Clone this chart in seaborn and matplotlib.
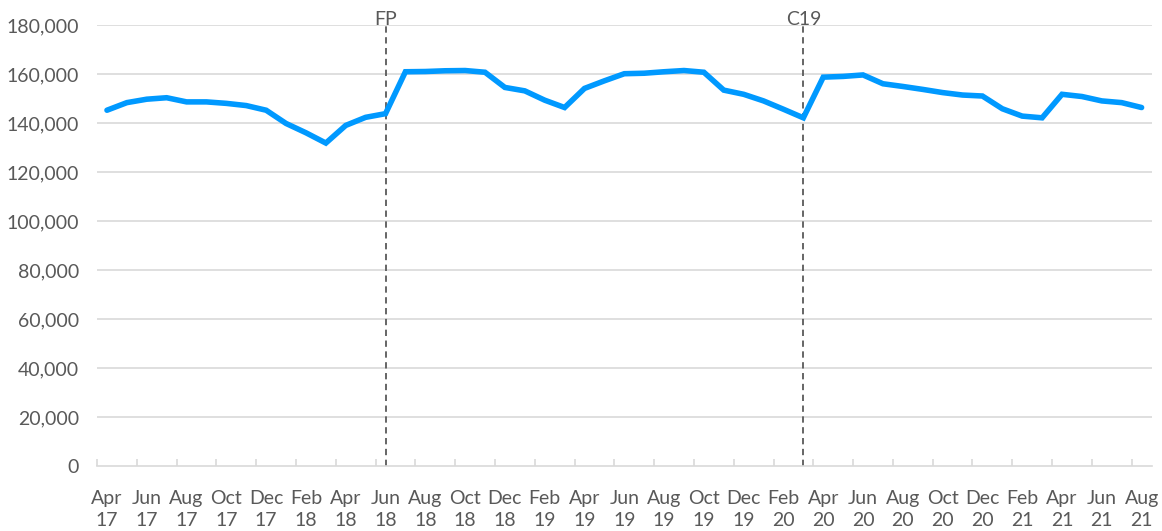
import matplotlib.pyplot as plt
import pandas as pd
import seaborn as sns
import numpy as np

# Monthly series, Apr 2017 - Aug 2021
values = [
    145200, 148300, 149700, 150300, 148600, 148600, 148000, 147100, 145200,
    139800, 136000, 131800, 139000, 142300, 143800,
    160900, 161000, 161300, 161400, 160700, 154500, 153100, 149300, 146300,
    154100, 157200, 160100, 160300, 160900, 161400, 160700, 153400, 151700,
    149000, 145600, 142100,
    158700, 159000, 159600, 156000, 154900, 153700, 152400, 151400, 151000,
    145800, 142800, 142100, 151700, 150800, 149000, 148300, 146300,
]
dates = pd.date_range('2017-04-01', periods=len(values), freq='MS')

event_labels = ['FP', 'C19']
event_dates = ['2018-06-01', '2020-03-01']

df = pd.DataFrame({'idx': np.arange(len(values)), 'value': values})
tick_labels = [d.strftime('%b\n%y') for d in dates]

sns.set_theme(style="white")
plt.rcParams['font.family'] = ['Lato', 'DejaVu Sans']

grey_txt = '#595959'
fs = 14
fig = plt.figure(figsize=(11.62, 5.31), dpi=100)
ax = fig.add_axes([0.0835, 0.1224, 0.9075, 0.8306])

# gridlines
yt = np.arange(0, 180001, 20000)
for y in yt[1:]:
    ax.axhline(y, color='#d9d9d9', lw=1.2, zorder=0)

sns.lineplot(data=df, x='idx', y='value', ax=ax, color='#0099ff', lw=4,
             solid_joinstyle='miter', zorder=3)

# event markers
for lab, d in zip(event_labels, event_dates):
    i = int(np.where(dates == pd.Timestamp(d))[0][0])
    ax.plot([i, i], [0, 180800], color=grey_txt, lw=1.3, ls=(0, (3.5, 2.5)),
            zorder=2, clip_on=False)
    ax.text(i, 178800, lab, ha='center', va='bottom', fontsize=fs,
            color=grey_txt)

ax.set_xlim(-0.5, len(values) - 0.5)
ax.set_ylim(0, 180000)
ax.set_yticks(yt)
ax.set_yticklabels([f'{v:,}' for v in yt])

# labels every other month, ticks between categories
ax.set_xticks(np.arange(0, len(values), 2))
ax.set_xticklabels(tick_labels[::2], linespacing=1.4)
ax.set_xticks(np.arange(-0.5, len(values) - 1, 2), minor=True)
ax.tick_params(axis='x', which='major', length=0, pad=17, labelsize=fs,
               labelcolor=grey_txt)
ax.tick_params(axis='x', which='minor', length=5, width=1.2, direction='in',
               color='#d9d9d9', bottom=True)
ax.tick_params(axis='y', length=0, pad=13, labelsize=fs, labelcolor=grey_txt)

ax.set_xlabel('')
ax.set_ylabel('')
for s in ['top', 'right', 'left']:
    ax.spines[s].set_visible(False)
ax.spines['bottom'].set_color('#d9d9d9')
ax.spines['bottom'].set_linewidth(1.2)

plt.savefig('out.png', dpi=100)
plt.close()
